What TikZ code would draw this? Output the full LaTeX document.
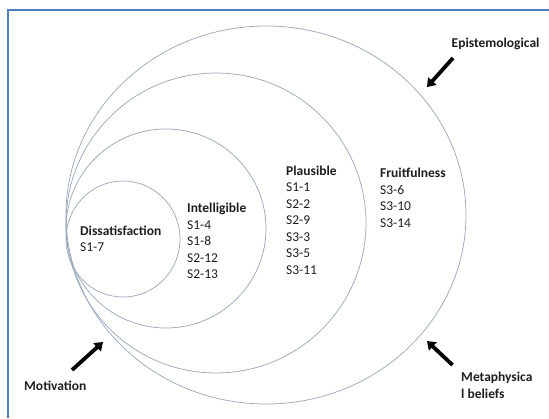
\documentclass[tikz,border=0pt]{standalone}
\usepackage{fontspec}
\setmainfont{Carlito}
\usetikzlibrary{arrows.meta}
\definecolor{ringgray}{RGB}{155,170,190}
\definecolor{frameblue}{RGB}{79,129,189}
\definecolor{inkgray}{RGB}{30,30,30}
\begin{document}
\begin{tikzpicture}[x=1pt,y=-1pt,
  ring/.style={draw=ringgray,line width=0.75pt},
  label/.style={font=\fontsize{13.5}{16.5}\selectfont,text=inkgray,align=left,anchor=base west,inner sep=0pt},
  push/.style={line width=3.8pt,-{Triangle[width=11pt,length=8pt]},black}]
  \useasboundingbox (0,0) rectangle (549,418);
  \draw[frameblue,line width=1.8pt] (8,418) |- (549,10);
  % rings, all touching at the left
  \draw[ring] (266,215) ellipse [x radius=200pt, y radius=189pt];
  \draw[ring] (216,223) ellipse [x radius=150pt, y radius=150pt];
  \draw[ring] (166,228.5) ellipse [x radius=100pt, y radius=99.5pt];
  \draw[ring] (123,239) ellipse [x radius=57pt, y radius=58pt];
  % stage labels (placed by the baseline of their last line)
  \node[label] (dis) at (80,251.5) {\textbf{Dissatisfaction}\\S1-7};
  \node[label] (intel) at (187,278.5) {\textbf{Intelligible}\\S1-4\\S1-8\\S2-12\\S2-13};
  \node[label] (plaus) at (286,274) {\textbf{Plausible}\\S1-1\\S2-2\\S2-9\\S3-3\\S3-5\\S3-11};
  \node[label] (fruit) at (380,227) {\textbf{Fruitfulness}\\S3-6\\S3-10\\S3-14};
  % outside influences
  \node[label] (epi) at (451.5,47) {\textbf{Epistemological}};
  \node[label] (moti) at (24,390.5) {\textbf{Motivation}};
  \node[label] (meta) at (461,398) {\textbf{Metaphysica}\\\textbf{l beliefs}};
  \coordinate (epiTail) at (453,58);
  \coordinate (epiTip) at (427,87);
  \coordinate (motiTail) at (72,370);
  \coordinate (motiTip) at (103,342);
  \coordinate (metaTail) at (452.5,365);
  \coordinate (metaTip) at (427,341);
  \draw[push] (epiTail) -- (epiTip);
  \draw[push] (motiTail) -- (motiTip);
  \draw[push] (metaTail) -- (metaTip);
\end{tikzpicture}
\end{document}
